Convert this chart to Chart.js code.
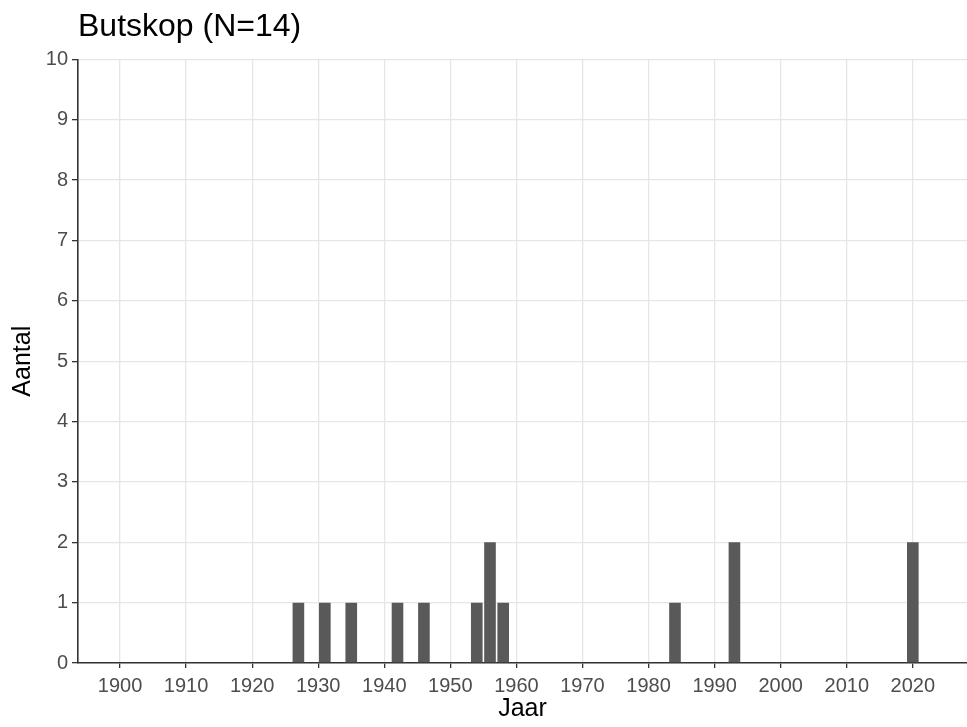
<!DOCTYPE html>
<html>
<head>
<meta charset="utf-8">
<script src="https://cdn.jsdelivr.net/npm/chart.js@4"></script>
<style>
  html, body { margin: 0; padding: 0; background: #fff; }
  canvas { display: block; }
</style>
</head>
<body>
<canvas id="chart" width="967" height="727"></canvas>
<script>
const years = [1927, 1931, 1935, 1942, 1946, 1954, 1956, 1958, 1984, 1993, 2020];
const counts = [1, 1, 1, 1, 1, 1, 2, 1, 1, 2, 2];
const xTicks = [1900, 1910, 1920, 1930, 1940, 1950, 1960, 1970, 1980, 1990, 2000, 2010, 2020];

const font = 'Liberation Sans, Arial, sans-serif';

const ctx = document.getElementById('chart').getContext('2d');
new Chart(ctx, {
    type: 'bar',
    data: {
        datasets: [{
            label: 'Aantal',
            data: years.map((y, i) => ({ x: y, y: counts[i] })),
            backgroundColor: '#595959',
            borderWidth: 0,
            barPercentage: 0.88,
            categoryPercentage: 1
        }]
    },
    options: {
        responsive: false,
        animation: false,
        layout: { padding: 0 },
        plugins: {
            legend: { display: false },
            tooltip: { enabled: false },
            title: {
                display: true,
                text: 'Butskop (N=14)',
                align: 'start',
                fullSize: false,
                color: '#000',
                font: { family: font, size: 32, weight: 'normal' },
                padding: { top: 8, bottom: 13 }
            }
        },
        scales: {
            x: {
                type: 'linear',
                min: 1893.64,
                max: 2028.2,
                offset: false,
                afterBuildTicks: s => { s.ticks = xTicks.map(v => ({ value: v })); },
                afterFit: s => { s.height = 64; },
                grid: { offset: false, color: '#e6e6e6', lineWidth: 1.3, tickColor: '#333', tickLength: 5 },
                border: { display: true, color: '#333', width: 1.6 },
                ticks: {
                    autoSkip: false, maxRotation: 0, padding: 6,
                    color: '#4d4d4d', font: { family: font, size: 20 },
                    callback: v => String(v)
                },
                title: {
                    display: true, text: 'Jaar', color: '#000',
                    font: { family: font, size: 25 },
                    padding: { top: 0, bottom: 3 }
                }
            },
            y: {
                min: 0,
                max: 10,
                afterFit: s => { s.width = 78; },
                grid: { color: '#e6e6e6', lineWidth: 1.3, tickColor: '#333', tickLength: 6 },
                border: { display: true, color: '#333', width: 1.6 },
                ticks: {
                    stepSize: 1, padding: 4,
                    color: '#4d4d4d', font: { family: font, size: 20 }
                },
                title: {
                    display: true, text: 'Aantal', color: '#000',
                    font: { family: font, size: 25 },
                    padding: { top: 8, bottom: 0 }
                }
            }
        }
    }
});
</script>
</body>
</html>
